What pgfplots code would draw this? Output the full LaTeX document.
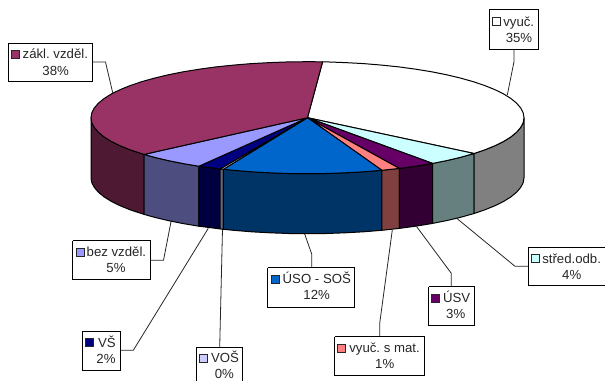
\documentclass[border=0pt]{standalone}
\usepackage{pgfplots}
\usepackage{fontspec}
\setmainfont{Liberation Sans}
\pgfplotsset{compat=1.18}
\frenchspacing
\definecolor{czakl}{HTML}{993366}\definecolor{czakld}{HTML}{4D1933}
\definecolor{cvyuc}{HTML}{FFFFFF}\definecolor{cvyucd}{HTML}{808080}
\definecolor{cstr}{HTML}{CCFFFF}\definecolor{cstrd}{HTML}{668080}
\definecolor{cusv}{HTML}{660066}\definecolor{cusvd}{HTML}{330033}
\definecolor{cmat}{HTML}{FF8080}\definecolor{cmatd}{HTML}{804040}
\definecolor{cuso}{HTML}{0066CC}\definecolor{cusod}{HTML}{003366}
\definecolor{cvos}{HTML}{CCCCFF}\definecolor{cvosd}{HTML}{666680}
\definecolor{cvs}{HTML}{000080}\definecolor{cvsd}{HTML}{000040}
\definecolor{cbez}{HTML}{9999FF}\definecolor{cbezd}{HTML}{4D4D80}
\newcommand\poly[2]{\addplot[fill=#1,draw=black,line width=1.0pt,line join=round] coordinates {#2} -- cycle;}
\newcommand\leader[1]{\addplot[draw=black!85,line width=0.8pt] coordinates {#1};}
\newcommand\boxline[1]{\addplot[draw=black,line width=1.0pt] coordinates {#1};}
% colour, swatch x, swatch bottom, text x, text, percent centre x, percent
\newcommand\lab[7]{%
  \pgfmathsetmacro\sxb{#2+8}\pgfmathsetmacro\syb{#3+8}%
  \pgfmathsetmacro\ty{#3-0.3}\pgfmathsetmacro\py{#3-16.6}%
  \edef\tmp{\noexpand\addplot[fill=#1,draw=black!85,line width=1.0pt] coordinates {(#2,#3)(\sxb,#3)(\sxb,\syb)(#2,\syb)} -- cycle;}\tmp
  \edef\tmp{\noexpand\node[anchor=base west,inner sep=0pt,outer sep=0pt,font=\noexpand\fontsize{13.2}{15}\noexpand\selectfont,text=black!85] at (axis cs:#4,\ty) {\unexpanded{#5}};}\tmp
  \edef\tmp{\noexpand\node[anchor=base,inner sep=0pt,outer sep=0pt,font=\noexpand\fontsize{13.2}{15}\noexpand\selectfont,text=black!85] at (axis cs:#6,\py) {\unexpanded{#7}};}\tmp
}
\begin{document}
\begin{tikzpicture}
\useasboundingbox (0,0) rectangle (605pt,381pt);
\begin{axis}[width=605pt,height=381pt,scale only axis,xmin=0,xmax=605,ymin=0,ymax=381,hide axis,at={(0,0)},anchor=south west]
% leader lines
\leader{(92.7,319)(105.5,319)(112.7,288.3)}
\leader{(514,331.7)(514,319.3)(507.3,286)}
\leader{(150.3,120.7)(163.5,120.7)(171,159.3)}
\leader{(120,30.7)(133.3,30.7)(208.3,152.7)}
\leader{(219.7,34)(222.5,152)}
\leader{(311.7,113.3)(311.7,127)(304.3,148)}
\leader{(379.7,44.3)(379.7,57.7)(392.3,151)}
\leader{(451.3,94.3)(451.3,107.7)(416.7,154.3)}
\leader{(528,114.7)(515,114.7)(456.7,162.7)}
% pie sides
\poly{czakld}{(144.1,226.6)(130.1,231.2)(120,235.3)(111.3,239.6)(104.1,244.1)(98.4,248.8)(94.3,253.6)(91.8,258.4)(91,263.3)(91,203.3)(91.8,198.4)(94.3,193.6)(98.4,188.8)(104.1,184.1)(111.3,179.6)(120,175.3)(130.1,171.2)(144.1,166.6)}
\poly{cbezd}{(198.9,214.8)(183.3,217.4)(168.3,220.4)(154.4,223.7)(144.1,226.6)(144.1,166.6)(154.4,163.7)(168.3,160.4)(183.3,157.4)(198.9,154.8)}
\poly{cvsd}{(220.1,212.1)(198.9,214.8)(198.9,154.8)(220.1,152.1)}
\poly{cvosd}{(223.3,211.7)(220.1,212.1)(220.1,152.1)(223.3,151.7)}
\poly{cusod}{(381.9,210.7)(363.5,209.2)(345.1,208.2)(326.4,207.5)(307.5,207.3)(288.6,207.5)(269.9,208.2)(251.5,209.2)(233.5,210.7)(223.3,211.7)(223.3,151.7)(233.5,150.7)(251.5,149.2)(269.9,148.2)(288.6,147.5)(307.5,147.3)(326.4,147.5)(345.1,148.2)(363.5,149.2)(381.9,150.7)}
\poly{cmatd}{(399.3,212.6)(381.9,210.7)(381.9,150.7)(399.3,152.6)}
\poly{cusvd}{(432.6,217.6)(415.75,214.8)(399.3,212.6)(399.3,152.6)(415.75,154.8)(432.6,157.6)}
\poly{cstrd}{(474.1,227.5)(460.6,223.7)(446.7,220.4)(432.6,217.6)(432.6,157.6)(446.7,160.4)(460.6,163.7)(474.1,167.5)}
\poly{cvyucd}{(524,263.3)(523.2,258.4)(520.7,253.6)(516.6,248.8)(510.9,244.1)(503.7,239.6)(495,235.3)(484.9,231.2)(474.1,227.5)(474.1,167.5)(484.9,171.2)(495,175.3)(503.7,179.6)(510.9,184.1)(516.6,188.8)(520.7,193.6)(523.2,198.4)(524,203.3)}
% pie top
\poly{cvyuc}{(307.5,263.3)(322.6,319.2)(326.4,319.1)(345.1,318.4)(363.5,317.4)(381.5,315.9)(399,314.1)(415.75,311.8)(431.7,309.2)(446.7,306.2)(460.6,302.9)(473.3,299.3)(484.9,295.4)(495,291.3)(503.7,287)(510.9,282.5)(516.6,277.8)(520.7,273)(523.2,268.2)(524,263.3)(523.2,258.4)(520.7,253.6)(516.6,248.8)(510.9,244.1)(503.7,239.6)(495,235.3)(484.9,231.2)(474.1,227.5)}
\poly{cstr}{(307.5,263.3)(474.1,227.5)(460.6,223.7)(446.7,220.4)(432.6,217.6)}
\poly{cusv}{(307.5,263.3)(432.6,217.6)(415.75,214.8)(399.3,212.6)}
\poly{cmat}{(307.5,263.3)(399.3,212.6)(381.9,210.7)}
\poly{cuso}{(307.5,263.3)(381.9,210.7)(363.5,209.2)(345.1,208.2)(326.4,207.5)(307.5,207.3)(288.6,207.5)(269.9,208.2)(251.5,209.2)(233.5,210.7)(223.3,211.7)}
\poly{cvos}{(307.5,263.3)(223.3,211.7)(220.1,212.1)}
\poly{cvs}{(307.5,263.3)(220.1,212.1)(198.9,214.8)}
\poly{cbez}{(307.5,263.3)(198.9,214.8)(183.3,217.4)(168.3,220.4)(154.4,223.7)(144.1,226.6)}
\poly{czakl}{(307.5,263.3)(144.1,226.6)(130.1,231.2)(120,235.3)(111.3,239.6)(104.1,244.1)(98.4,248.8)(94.3,253.6)(91.8,258.4)(91,263.3)(91.8,268.2)(94.3,273)(98.4,277.8)(104.1,282.5)(111.3,287)(120,291.3)(130.1,295.4)(141.7,299.3)(154.4,302.9)(168.3,306.2)(183.3,309.2)(199.25,311.8)(216,314.1)(233.5,315.9)(251.5,317.4)(269.9,318.4)(288.6,319.1)(307.5,319.3)(322.6,319.2)}
% label boxes
\boxline{(8.3,337.7)(92.7,337.7)(92.7,299.3)(8.3,299.3)(8.3,337.7)}
\boxline{(489.3,371)(538.3,371)(538.3,331.7)(489.3,331.7)(489.3,371)}
\boxline{(72.7,140.3)(150.3,140.3)(150.3,101.3)(72.7,101.3)(72.7,140.3)}
\boxline{(82.7,50)(120,50)(120,11)(82.7,11)(82.7,50)}
\boxline{(196.3,0)(196.3,34)(242.7,34)(242.7,0)}
\boxline{(267.7,113.3)(354.7,113.3)(354.7,74)(267.7,74)(267.7,113.3)}
\boxline{(334.7,44.3)(424.3,44.3)(424.3,5.7)(334.7,5.7)(334.7,44.3)}
\boxline{(428.7,94.3)(474,94.3)(474,55.3)(428.7,55.3)(428.7,94.3)}
\boxline{(605,133.7)(528,133.7)(528,95.3)(605,95.3)}
% labels
\lab{czakl}{11.3}{322.3}{22.7}{zákl. vzděl.}{55.7}{38\%}
\lab{cvyuc}{492.3}{355}{503.3}{vyuč.}{519}{35\%}
\lab{cbez}{76}{124.7}{86.7}{bez vzděl.}{116}{5\%}
\lab{cvs}{85.7}{34.3}{98}{VŠ}{106}{2\%}
\lab{cvos}{199.3}{18.7}{211}{VOŠ}{224.3}{0\%}
\lab{cuso}{271}{98}{282.7}{ÚSO - SOŠ}{316.7}{12\%}
\lab{cmat}{337.7}{29}{349.3}{vyuč. s mat.}{384.7}{1\%}
\lab{cusv}{431.3}{78.7}{443}{ÚSV}{455.7}{3\%}
\lab{cstr}{531.3}{118.3}{542.3}{střed.odb.}{571.7}{4\%}
\end{axis}
\end{tikzpicture}
\end{document}
